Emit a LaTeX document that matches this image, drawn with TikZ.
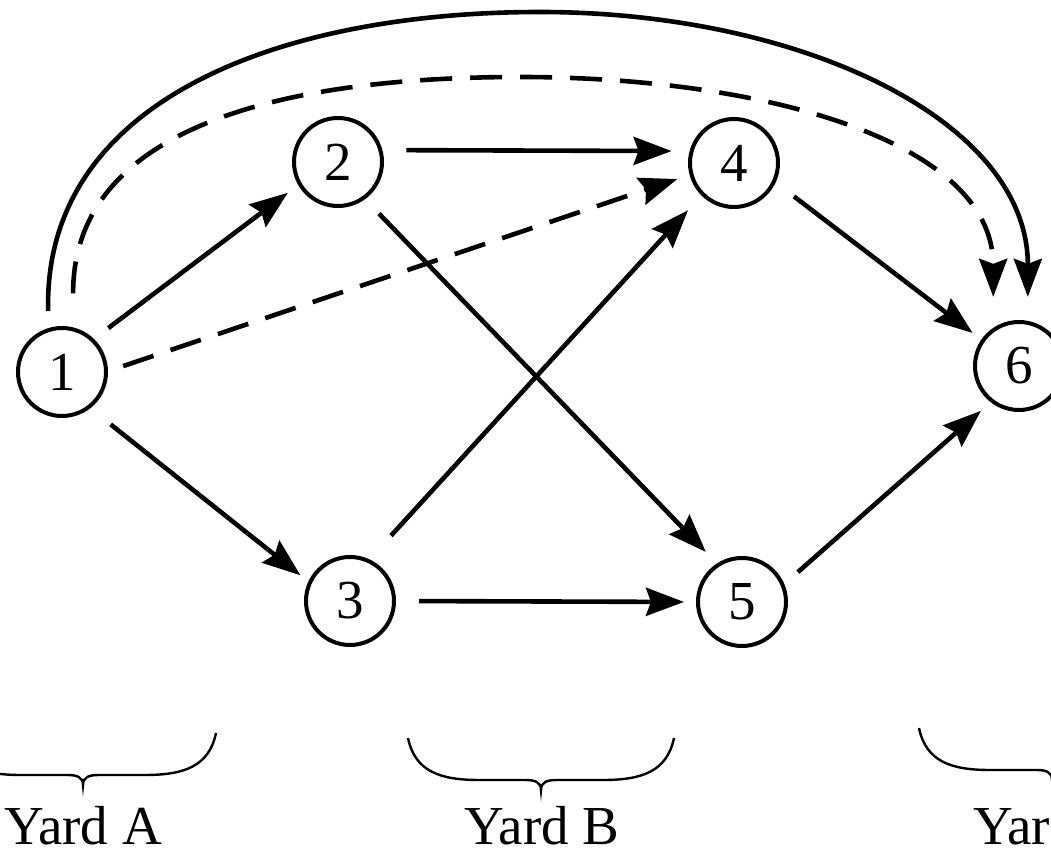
\documentclass[tikz,border=0pt]{standalone}
\usepackage{fontspec}
\setmainfont{Liberation Serif}
\usetikzlibrary{arrows.meta}
\begin{document}
\begin{tikzpicture}[x=0.5pt,y=-0.5pt,
  vtx/.style={draw,circle,line width=2pt,minimum size=44pt,inner sep=0pt,font=\fontsize{27.5}{30}\selectfont},
  edge/.style={line width=2.3pt,-{Stealth[length=19pt,width=14pt,inset=2.5pt]}},
  dashedge/.style={edge,dash pattern=on 16pt off 9pt},
  bracepath/.style={line width=1.2pt},
  lbl/.style={anchor=base,inner sep=0pt,outer sep=0pt,font=\fontsize{27.5}{30}\selectfont},
  ybrace/.pic={\draw[bracepath] (-133,-42) .. controls (-126,-8) and (-100,0) .. (-62,0) -- (-16,0) .. controls (-6,0) and (0,2) .. (0,10) .. controls (0,2) and (6,0) .. (16,0) -- (62,0) .. controls (100,0) and (126,-8) .. (133,-42);}]
\useasboundingbox (0,0) rectangle (1051,855);
\clip (0,0) rectangle (1051,855);
% nodes
\node[vtx] (n1) at (62,372) {1};
\node[vtx] (n2) at (338,162) {2};
\node[vtx] (n3) at (350,601) {3};
\node[vtx] (n4) at (734,163) {4};
\node[vtx] (n5) at (742,602) {5};
\node[vtx] (n6) at (1019,366) {6};
% straight edges
\draw[edge,shorten <=9pt,shorten >=6.5pt] (n1.46) -- (n2.210);
\draw[dashedge,shorten <=8pt,shorten >=6.5pt] (n1.1) -- (n4.195);
\draw[edge,shorten <=13pt,shorten >=5pt] (n1.308) -- (n3.155);
\draw[edge,shorten <=12pt,shorten >=9pt] (n2.15) -- (n4.165);
\draw[edge,shorten <=10pt,shorten >=8pt] (n2.306) -- (n5.123);
\draw[edge,shorten <=16pt,shorten >=10pt] (n3.65) -- (n4.225);
\draw[edge,shorten <=11.5pt,shorten >=6pt] (n3.0) -- (n5.180);
\draw[edge,shorten <=11.5pt,shorten >=5.5pt] (n4.335) -- (n6.145);
\draw[edge,shorten <=9pt,shorten >=6.5pt] (n5.23) -- (n6.232);
% long curves
\draw[edge,shorten <=8.5pt,shorten >=12pt] (n1.107) .. controls (43,100) and (280,12) .. (540,12) .. controls (800,12) and (1028,120) .. (n6.79);
\draw[dashedge,shorten <=17pt,shorten >=15.5pt] (n1.76) .. controls (73,120) and (300,77) .. (520,77) .. controls (760,77) and (993,140) .. (n6.124);
% braces and labels
\pic at (83,775) {ybrace};
\pic at (541,780) {ybrace};
\pic at (1052,770) {ybrace};
\node[lbl] (ya) at (83,845) {Yard A};
\node[lbl] (yb) at (542,845) {Yard B};
\node[lbl,anchor=base west] (yc) at (973,845) {Yar};
\end{tikzpicture}
\end{document}
